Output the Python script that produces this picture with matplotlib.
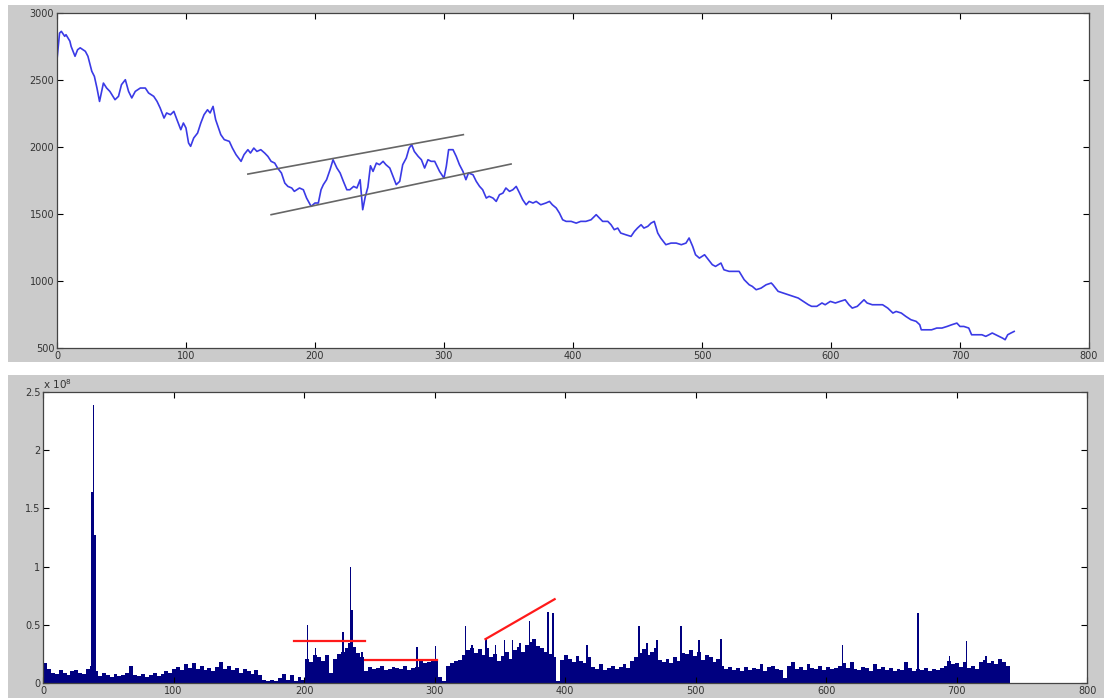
import numpy as np
import matplotlib
matplotlib.use("Agg")
import matplotlib.pyplot as plt
from matplotlib.patches import Rectangle

# price series (day index, close)
days = [0, 2, 3.4, 6, 7, 10, 11, 14, 16, 18, 22, 24, 27, 29, 31, 33, 36, 38.5, 41, 45,
        47.7, 50, 53, 55.5, 58, 60.7, 64.6, 68.5, 71, 75, 77.6, 80, 83, 85, 88, 90.6, 93, 96, 98, 100,
        102, 103.6, 106, 109, 111.5, 114, 116.7, 118.7, 121, 123, 127, 129.7, 133.6, 136, 138.8, 142.7,
        145, 148, 150, 152.6, 155, 158, 161, 163.5, 166, 168.8, 171, 174, 176.6, 179, 182, 184, 188,
        191, 193.5, 197, 200, 202.6, 204.7, 206.5, 209, 211.7, 214, 217, 219.5, 222, 224.7, 227, 230,
        232.5, 235, 237, 239, 241, 243, 245, 247.6, 250, 252.8, 255, 258, 260.5, 263, 265.7, 268,
        270.8, 273, 275, 277, 280, 282.5, 285, 287.6, 290, 292.8, 296.6, 300, 301.8, 303.6, 307,
        309.5, 312, 314.7, 317, 319, 322.5, 325, 327.6, 330, 332.8, 335, 338, 340.5, 343, 345.7, 348,
        350.8, 353.4, 356, 358.6, 361, 363.7, 366, 369, 371.5, 375, 379, 381.8, 384, 387, 389.5, 392,
        394.7, 398.6, 402.5, 406, 410, 414, 418, 420.5, 423, 427, 429.5, 432, 434.7, 437, 441, 445,
        447.6, 450, 452.8, 455, 458, 460.5, 463, 465.7, 468, 472, 476, 480, 484, 487.6, 490, 492.8,
        495, 498, 502, 504, 508, 510.5, 514.7, 517, 521, 525, 528.8, 532.7, 536.6, 539, 542, 545.8,
        549.7, 553.7, 555, 559, 563, 566.8, 570.7, 574.6, 578.5, 582.5, 585, 589, 593, 595.5, 599.5,
        603.4, 607, 611, 613.9, 616.5, 620.4, 623, 625.6, 628, 632, 636, 640, 644, 648, 650.5, 654.5,
        658, 662, 666, 668.8, 670, 674, 678, 682, 686, 690, 693.7, 697.6, 700, 703, 706.8, 709, 713,
        717, 720, 722.5, 725, 727.7, 730, 733, 735, 737, 739.5, 742]
price = [2649, 2850, 2863, 2826, 2838, 2790, 2750, 2677, 2726, 2740, 2714, 2677, 2565, 2527, 2440,
         2340, 2477, 2440, 2415, 2353, 2378, 2465, 2502, 2415, 2366, 2415, 2440, 2440, 2403, 2378,
         2340, 2291, 2216, 2254, 2241, 2266, 2204, 2129, 2179, 2142, 2030, 2005, 2067, 2104, 2179,
         2241, 2278, 2254, 2303, 2204, 2092, 2055, 2042, 1992, 1943, 1893, 1943, 1980, 1955, 1992,
         1967, 1980, 1955, 1930, 1893, 1880, 1843, 1806, 1731, 1706, 1694, 1669, 1694, 1681, 1619,
         1557, 1582, 1582, 1681, 1719, 1756, 1831, 1905, 1843, 1806, 1744, 1681, 1681, 1706, 1694,
         1756, 1532, 1630, 1700, 1860, 1818, 1880, 1868, 1893, 1868, 1843, 1781, 1719, 1744, 1868,
         1918, 1992, 2017, 1967, 1930, 1905, 1843, 1905, 1893, 1893, 1818, 1768, 1855, 1980, 1980,
         1930, 1868, 1818, 1756, 1806, 1793, 1744, 1706, 1681, 1619, 1632, 1619, 1594, 1644, 1656,
         1694, 1669, 1681, 1706, 1656, 1607, 1569, 1594, 1582, 1594, 1569, 1582, 1594, 1569, 1545,
         1507, 1457, 1445, 1445, 1432, 1445, 1445, 1457, 1495, 1470, 1445, 1445, 1420, 1383, 1395,
         1358, 1345, 1333, 1370, 1395, 1420, 1395, 1408, 1432, 1445, 1358, 1321, 1271, 1283, 1283,
         1271, 1283, 1321, 1258, 1196, 1171, 1196, 1171, 1122, 1109, 1134, 1084, 1072, 1072, 1072,
         1010, 972, 960, 935, 947, 972, 985, 972, 923, 910, 898, 885, 873, 848, 823, 811, 811, 836,
         823, 848, 836, 848, 860, 823, 798, 811, 836, 860, 836, 823, 823, 823, 798, 761, 773, 761,
         736, 711, 699, 674, 636, 636, 636, 649, 649, 661, 674, 686, 661, 661, 649, 599, 599, 599,
         587, 599, 612, 599, 587, 574, 562, 599, 612, 624]

# channel drawn over the consolidation (start day, start price, end day, end price)
upper_channel = [148, 1798, 315, 2092]
lower_channel = [166, 1495, 352, 1873]

# volume, in units of 1e8, sampled every 3 days from day 0
vol_start, vol_step = 0, 3
volume = [0.17, 0.12, 0.09, 0.08, 0.11, 0.09, 0.07, 0.10, 0.11, 0.09,
          0.08, 0.12, 0.15, 0.10, 0.06, 0.09, 0.07, 0.05, 0.08, 0.06,
          0.07, 0.09, 0.15, 0.07, 0.06, 0.08, 0.05, 0.07, 0.09, 0.06,
          0.08, 0.10, 0.09, 0.12, 0.14, 0.11, 0.16, 0.13, 0.17, 0.12,
          0.15, 0.11, 0.13, 0.10, 0.14, 0.18, 0.12, 0.15, 0.11, 0.13,
          0.09, 0.12, 0.10, 0.08, 0.11, 0.07, 0.03, 0.02, 0.03, 0.02,
          0.04, 0.08, 0.03, 0.07, 0.02, 0.05, 0.03, 0.21, 0.18, 0.24,
          0.22, 0.19, 0.24, 0.09, 0.21, 0.25, 0.27, 0.30, 0.34, 0.31,
          0.26, 0.22, 0.10, 0.14, 0.12, 0.13, 0.15, 0.11, 0.12, 0.14,
          0.13, 0.12, 0.15, 0.11, 0.13, 0.14, 0.19, 0.17, 0.18, 0.20,
          0.20, 0.05, 0.02, 0.15, 0.17, 0.19, 0.20, 0.24, 0.28, 0.30,
          0.26, 0.29, 0.24, 0.30, 0.22, 0.25, 0.19, 0.23, 0.27, 0.21,
          0.28, 0.31, 0.27, 0.33, 0.35, 0.38, 0.32, 0.30, 0.27, 0.25,
          0.22, 0.02, 0.20, 0.24, 0.21, 0.18, 0.23, 0.19, 0.17, 0.22,
          0.14, 0.12, 0.16, 0.11, 0.13, 0.15, 0.12, 0.14, 0.16, 0.13,
          0.19, 0.22, 0.26, 0.29, 0.24, 0.27, 0.30, 0.20, 0.18, 0.21,
          0.17, 0.22, 0.19, 0.26, 0.25, 0.28, 0.23, 0.27, 0.20, 0.24,
          0.22, 0.18, 0.21, 0.15, 0.12, 0.14, 0.11, 0.13, 0.10, 0.14,
          0.11, 0.13, 0.12, 0.16, 0.10, 0.14, 0.15, 0.12, 0.11, 0.04,
          0.15, 0.18, 0.12, 0.14, 0.11, 0.16, 0.13, 0.12, 0.15, 0.11,
          0.14, 0.12, 0.13, 0.15, 0.17, 0.13, 0.18, 0.12, 0.11, 0.14,
          0.13, 0.10, 0.16, 0.12, 0.14, 0.11, 0.13, 0.10, 0.12, 0.11,
          0.18, 0.13, 0.10, 0.12, 0.11, 0.13, 0.10, 0.12, 0.11, 0.13,
          0.15, 0.19, 0.16, 0.17, 0.14, 0.18, 0.13, 0.15, 0.12, 0.18,
          0.20, 0.17, 0.19, 0.16, 0.21, 0.18, 0.15]

# single-day volume spikes
spike_days = [37, 38, 39, 202, 208, 229, 235, 236, 244, 286, 300, 323, 328, 339, 346, 353,
              359, 365, 372, 386, 390, 416, 456, 462, 470, 488, 502, 519, 612, 670, 694, 707, 722]
spike_vol = [1.64, 2.39, 1.27, 0.50, 0.30, 0.44, 1.00, 0.63, 0.27, 0.31, 0.32, 0.49, 0.33, 0.39,
             0.33, 0.37, 0.37, 0.34, 0.53, 0.61, 0.60, 0.33, 0.49, 0.34, 0.37, 0.49, 0.37, 0.38,
             0.33, 0.60, 0.23, 0.36, 0.23]

# red volume trend marks (x0, y0, x1, y1)
vol_lines = [[192, 0.365, 247, 0.365],
             [247, 0.194, 302, 0.194],
             [339, 0.377, 392, 0.72]]

grey = '#cbcbcb'
navy = '#000080'

fig = plt.figure(figsize=(11.04, 6.98), dpi=100, facecolor='white')
fig.patches.append(Rectangle((0.007, 0.4814), 0.993, 0.512, transform=fig.transFigure,
                             facecolor=grey, edgecolor='none', zorder=-10))
fig.patches.append(Rectangle((0.007, 0.0), 0.993, 0.4628, transform=fig.transFigure,
                             facecolor=grey, edgecolor='none', zorder=-10))

ax1 = fig.add_axes([0.0516, 0.5014, 0.9348, 0.480])
ax2 = fig.add_axes([0.0390, 0.0215, 0.9457, 0.4169])

ax1.plot(days, price, color='#3a3ae6', lw=1.2)
ax1.plot(upper_channel[0::2], upper_channel[1::2], color='#666666', lw=1.2)
ax1.plot(lower_channel[0::2], lower_channel[1::2], color='#666666', lw=1.2)
ax1.set_xlim(0, 800)
ax1.set_ylim(500, 3000)
ax1.set_xticks(range(0, 801, 100))
ax1.set_yticks(range(500, 3001, 500))

vdays = vol_start + vol_step * np.arange(len(volume))
ax2.bar(vdays, volume, width=vol_step, align='edge', color=navy, edgecolor='none')
ax2.bar(spike_days, spike_vol, width=1.3, align='edge', color=navy, edgecolor='none')
for x0, y0, x1, y1 in vol_lines:
    ax2.plot([x0, x1], [y0, y1], color='#ff1a1a', lw=1.6)
ax2.set_xlim(0, 800)
ax2.set_ylim(0, 2.5)
ax2.set_xticks(range(0, 801, 100))
ax2.set_yticks([0, 0.5, 1, 1.5, 2, 2.5])
ax2.set_yticklabels(['0', '0.5', '1', '1.5', '2', '2.5'])
ax2.text(0.0, 1.005, r'x 10$^{8}$', transform=ax2.transAxes, fontsize=7.5,
         color='#333333', ha='left', va='bottom')

for ax in (ax1, ax2):
    ax.set_facecolor('white')
    ax.tick_params(direction='in', top=True, right=True, length=4, width=0.8,
                   labelsize=7, labelcolor='#333333', pad=2)
    for s in ax.spines.values():
        s.set_color('#444444')
        s.set_linewidth(0.9)

fig.savefig('out.png', dpi=100, facecolor=fig.get_facecolor())
